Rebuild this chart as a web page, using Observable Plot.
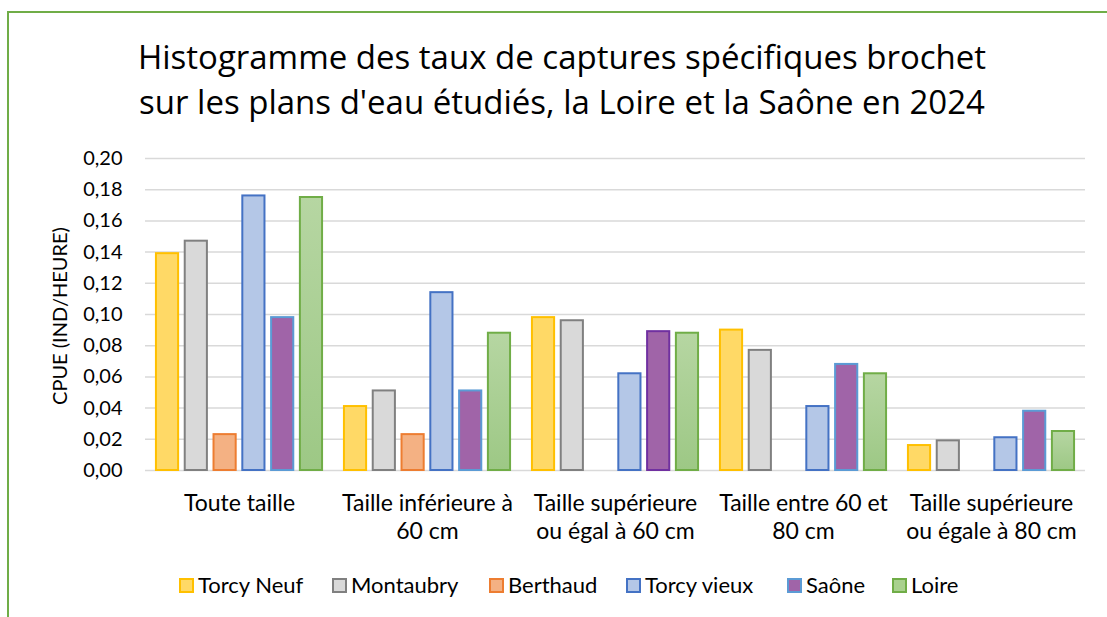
<!DOCTYPE html>
<html><head><meta charset="utf-8">
<script src="https://cdn.jsdelivr.net/npm/d3@7"></script>
<script src="https://cdn.jsdelivr.net/npm/@observablehq/plot@0.6"></script>
<style>
body{margin:0;width:1107px;height:617px;overflow:hidden;background:#fff;position:relative;font-family:Lato,sans-serif;color:#000}
#frame{position:absolute;left:7px;top:11px;width:1200px;height:700px;border:2px solid #70ad47;box-sizing:border-box}
#title{position:absolute;left:0;width:1124px;top:34px;text-align:center;font-family:"Open Sans";font-size:33px;line-height:45px;color:#000}
#chart{position:absolute;left:0;top:140px}
#ylabel{position:absolute;left:59px;top:316px;transform:translate(-50%,-50%) rotate(-90deg);font-size:20px;line-height:24px;white-space:nowrap}
#legend{position:absolute;top:571px;left:0;width:1107px;height:28px}
.item{position:absolute;top:0;display:flex;align-items:center;font-size:22px;line-height:28px;white-space:nowrap}
.sw{width:11px;height:11px;border:2px solid;margin-right:4px;box-sizing:content-box}
</style></head>
<body>
<div id="frame"></div>
<div id="title">Histogramme des taux de captures spécifiques brochet<br>sur les plans d'eau étudiés, la Loire et la Saône en 2024</div>
<div id="chart"></div>
<div id="ylabel">CPUE (IND/HEURE)</div>
<div id="legend"></div>
<script>
const categories = ["Toute taille", "Taille inférieure à\n60 cm", "Taille supérieure\nou égal à 60 cm", "Taille entre 60 et\n80 cm", "Taille supérieure\nou égale à 80 cm"];
const series = ["Torcy Neuf", "Montaubry", "Berthaud", "Torcy vieux", "Saône", "Loire"];
const torcyNeuf  = [0.139, 0.041, 0.098, 0.090, 0.016];
const montaubry  = [0.147, 0.051, 0.096, 0.077, 0.019];
const berthaud   = [0.023, 0.023, null, null, null];
const torcyVieux = [0.176, 0.114, 0.062, 0.041, 0.021];
const saone      = [0.098, 0.051, 0.089, 0.068, 0.038];
const loire      = [0.175, 0.088, 0.088, 0.062, 0.025];
const yTicks = [0, 0.02, 0.04, 0.06, 0.08, 0.10, 0.12, 0.14, 0.16, 0.18, 0.20];

const values = [torcyNeuf, montaubry, berthaud, torcyVieux, saone, loire];
const fills = ["#ffd966", "#d9d9d9", "#f4b183", "#b4c7e7", "#a064a8", "url(#loireGrad)"];
const strokes = ["#ffc000", "#808080", "#ed7d31", "#4472c4", "#5b9bd5", "#70ad47"];
const legendFills = ["#ffd966", "#d9d9d9", "#f4b183", "#b4c7e7", "#a064a8", "#a9d18e"];
const legendX = [179, 332, 489, 626, 787, 892];

const table = [];
series.forEach((s, i) => categories.forEach((c, j) => {
  if (values[i][j] != null) table.push({category: c, series: s, value: values[i][j]});
}));

const fmt = d => d3.format(".2f")(d).replace(".", ",");

const barMarks = series.map((s, i) => Plot.barY(table.filter(d => d.series === s), {
  fx: "category", x: "series", y: "value",
  fill: fills[i],
  stroke: s === "Saône" ? (d => d.category === categories[2] ? "#7030a0" : "#5b9bd5") : strokes[i],
  strokeWidth: 2, insetLeft: 0, insetRight: 0
}));

const chart = Plot.plot({
  width: 1107, height: 420,
  marginLeft: 143, marginRight: 20, marginTop: 18, marginBottom: 90,
  style: {fontFamily: "Lato", fontSize: "20px", color: "#000", background: "transparent"},
  fx: {domain: categories, padding: 0, label: null, axis: null},
  x: {domain: series, paddingInner: 0.23, paddingOuter: 0.38, round: false, axis: null},
  y: {domain: [0, 0.2], label: null, axis: null},
  color: {type: "identity"},
  marks: [
    Plot.gridY(yTicks, {stroke: "#d9d9d9", strokeOpacity: 1, strokeWidth: 1.5}),
    Plot.axisY(yTicks, {anchor: "left", tickSize: 0, tickPadding: 23, tickFormat: fmt, label: null, fontSize: 20}),
    Plot.axisFx({anchor: "bottom", tickSize: 0, tickPadding: 21, label: null, fontSize: 23, lineHeight: 1.22}),
    ...barMarks
  ]
});
const svg = chart;
const ns = "http://www.w3.org/2000/svg";
const defs = document.createElementNS(ns, "defs");
defs.innerHTML = '<linearGradient id="loireGrad" x1="0" y1="0" x2="0" y2="1"><stop offset="0" stop-color="#b6d6a2"/><stop offset="1" stop-color="#9dc885"/></linearGradient>';
svg.insertBefore(defs, svg.firstChild);
document.getElementById("chart").appendChild(svg);

const legend = document.getElementById("legend");
series.forEach((s, i) => {
  const it = document.createElement("div");
  it.className = "item";
  it.style.left = legendX[i] + "px";
  it.innerHTML = `<span class="sw" style="background:${legendFills[i]};border-color:${strokes[i]}"></span><span>${s}</span>`;
  legend.appendChild(it);
});
</script>
</body></html>
